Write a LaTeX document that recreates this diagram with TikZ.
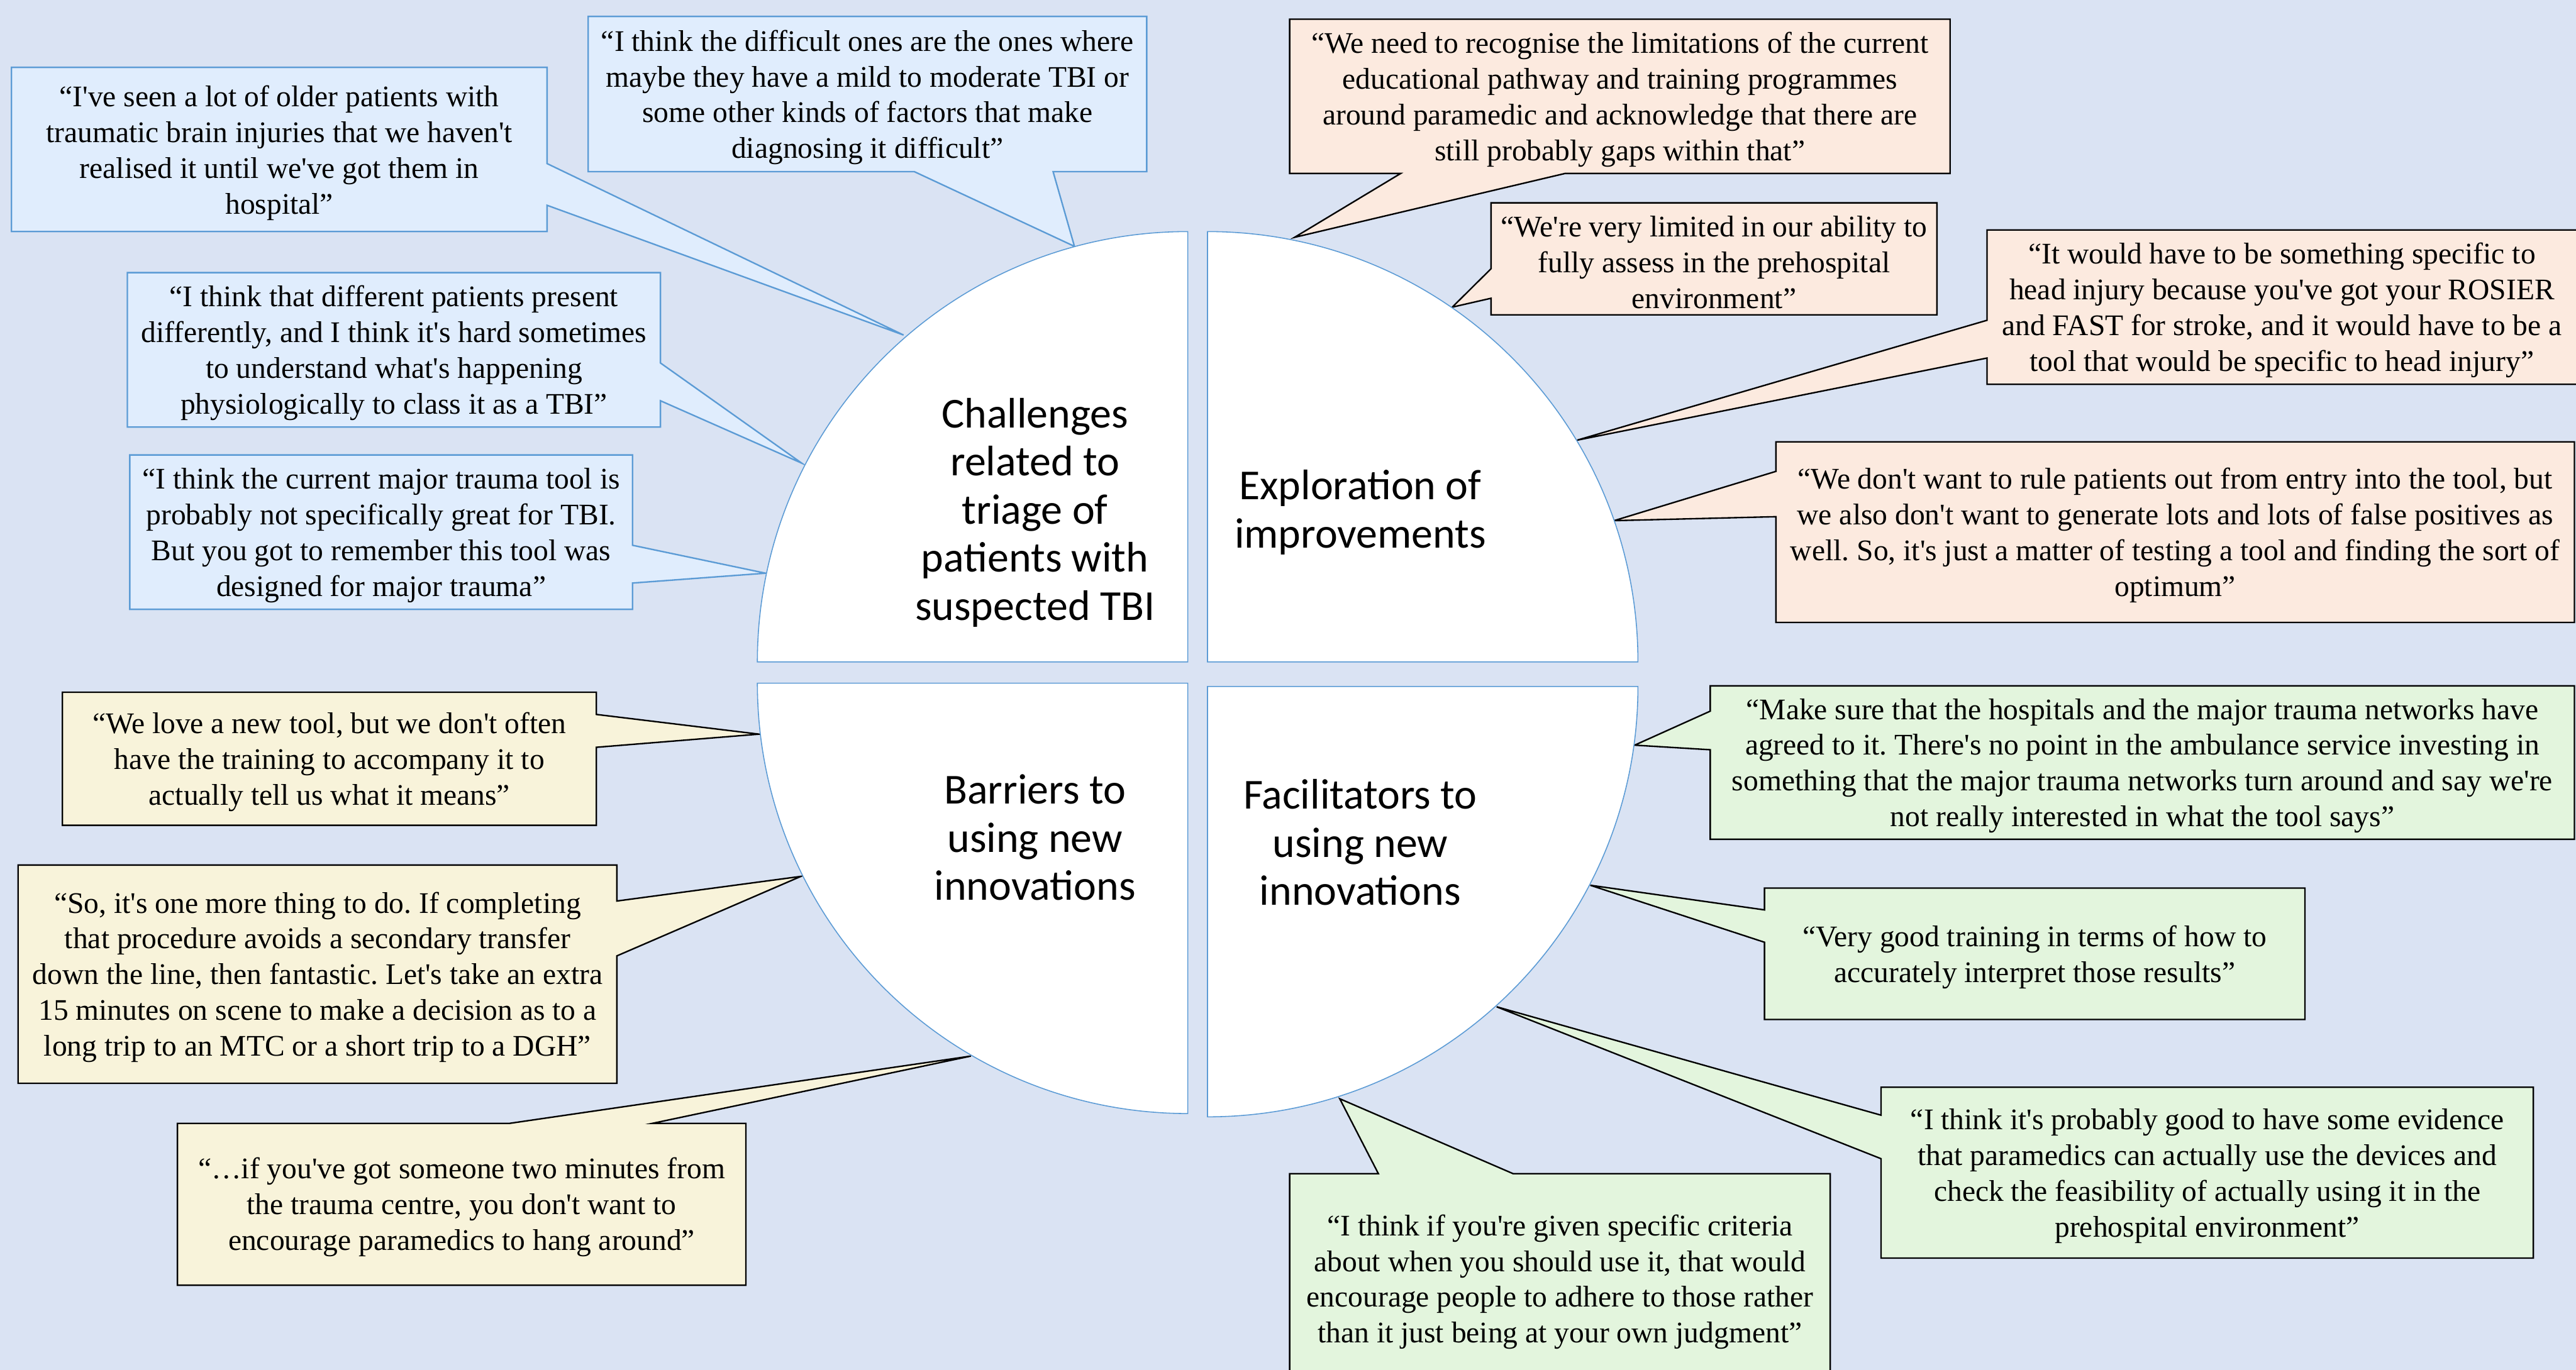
\documentclass[tikz,border=0pt]{standalone}
\usepackage{fontspec}
\setmainfont{Liberation Serif}[Ligatures=TeXOff]
\newfontfamily\themefont{Carlito}
\usepackage{xcolor}
\usetikzlibrary{positioning}
\definecolor{bgBlue}{HTML}{DAE3F3}
\definecolor{lineBlue}{HTML}{5B9BD5}
\definecolor{calBlue}{HTML}{E0EDFD}
\definecolor{calOrange}{HTML}{FCEADF}
\definecolor{calYellow}{HTML}{F8F3DA}
\definecolor{calGreen}{HTML}{E3F5DD}
\frenchspacing

\begin{document}
\begin{tikzpicture}[x=1pt, y=-1pt,
  quote/.style={font=\fontsize{18.2}{21.8}\selectfont, align=center, inner sep=0pt, yshift=-2pt},
  theme/.style={font=\themefont\fontsize{26}{29.3}\selectfont, align=center, inner sep=0pt, yshift=-2pt},
  quad/.style={draw=lineBlue, line width=0.6pt, fill=white},
  blu/.style={draw=lineBlue, line width=0.9pt, fill=calBlue},
  ora/.style={draw=black, line width=0.9pt, fill=calOrange},
  yel/.style={draw=black, line width=0.9pt, fill=calYellow},
  grn/.style={draw=black, line width=0.9pt, fill=calGreen}]
\useasboundingbox (0,0) rectangle (1568,834);
\clip (0,0) rectangle (1568,834);
\fill[bgBlue] (0,0) rectangle (1568,834);
% challenges
\draw[blu] (7,41) -| (333,99.6) -- (550,204) -- (333,125) |- (7,141) -- cycle;
\draw[blu] (358,10) -| (698,104.5) -- (641,104.5) -- (654,150) -- (556.5,104.5) -- (358,104.5) -- cycle;
\draw[blu] (77.5,166) -| (402,221) -- (488,282) -- (402,244) |- (77.5,260) -- cycle;
\draw[blu] (79,277) -| (385,332) -- (466,349) -- (385,355) |- (79,371) -- cycle;
\node[quote] (b1) at (170,91) {“I've seen a lot of older patients with\\traumatic brain injuries that we haven't\\realised it until we've got them in\\hospital”};
\node[quote] (b2) at (528,57.3) {“I think the difficult ones are the ones where\\maybe they have a mild to moderate TBI or\\some other kinds of factors that make\\diagnosing it difficult”};
\node[quote] (b3) at (239.8,213) {“I think that different patients present\\differently, and I think it's hard sometimes\\to understand what's happening\\physiologically to class it as a TBI”};
\node[quote] (b4) at (232,324) {“I think the current major trauma tool is\\probably not specifically great for TBI.\\But you got to remember this tool was\\designed for major trauma”};
% improvements
\draw[ora] (785,11.7) -| (1187,105.6) -- (952.7,105.6) -- (788,144.5) -- (852.6,105.6) -- (785,105.6) -- cycle;
\draw[ora] (907.6,123.5) -| (1179,191.7) -- (907.6,191.7) -- (907.6,181.6) -- (884,187) -- (907.6,163.6) -- cycle;
\draw[ora] (1209.5,140) -| (1572,234) -- (1209.5,234) -- (1209.5,218) -- (960,268) -- (1209.5,195) -- cycle;
\draw[ora] (1081,269) -| (1567,379) -- (1081,379) -- (1081,314.6) -- (982.5,317) -- (1081,287) -- cycle;
\node[quote] (o1) at (986,58.6) {“We need to recognise the limitations of the current\\educational pathway and training programmes\\around paramedic and acknowledge that there are\\still probably gaps within that”};
\node[quote] (o2) at (1043.3,157.6) {“We're very limited in our ability to\\fully assess in the prehospital\\environment”};
\node[quote] (o3) at (1389,187) {“It would have to be something specific to\\head injury because you've got your ROSIER\\and FAST for stroke, and it would have to be a\\tool that would be specific to head injury”};
\node[quote] (o4) at (1324,324) {“We don't want to rule patients out from entry into the tool, but\\we also don't want to generate lots and lots of false positives as\\well. So, it's just a matter of testing a tool and finding the sort of\\optimum”};
% barriers
\draw[yel] (38,421.5) -| (363,435) -- (462,447) -- (363,455) |- (38,502.5) -- cycle;
\draw[yel] (11,526.7) -| (375.5,548.6) -- (487.5,533.6) -- (375.5,582) |- (11,659.6) -- cycle;
\draw[yel] (108,684) -- (310,684) -- (591,643) -- (397,684) -- (454,684) |- (108,782.5) -- cycle;
\node[quote] (y1) at (200.5,462) {“We love a new tool, but we don't often\\have the training to accompany it to\\actually tell us what it means”};
\node[quote] (y2) at (193.3,593) {“So, it's one more thing to do. If completing\\that procedure avoids a secondary transfer\\down the line, then fantastic. Let's take an extra\\15 minutes on scene to make a decision as to a\\long trip to an MTC or a short trip to a DGH”};
\node[quote] (y3) at (281,733) {“…if you've got someone two minutes from\\the trauma centre, you don't want to\\encourage paramedics to hang around”};
% facilitators
\draw[grn] (1041,417.6) -| (1567,511) -- (1041,511) -- (1041,456.5) -- (995,453.7) -- (1041,433) -- cycle;
\draw[grn] (1074,540.7) -| (1403,620.7) -- (1074,620.7) -- (1074,573.7) -- (968,539) -- (1074,554) -- cycle;
\draw[grn] (1145,662) -| (1542,766) -- (1145,766) -- (1145,705.5) -- (911,613) -- (1145,679) -- cycle;
\draw[grn] (785,714.6) -- (839,714.6) -- (815.5,669) -- (921,714.6) -- (1114,714.6) |- (785,850) -- cycle;
\node[quote] (g1) at (1304,464.3) {“Make sure that the hospitals and the major trauma networks have\\agreed to it. There's no point in the ambulance service investing in\\something that the major trauma networks turn around and say we're\\not really interested in what the tool says”};
\node[quote] (g2) at (1238.5,580.7) {“Very good training in terms of how to\\accurately interpret those results”};
\node[quote] (g3) at (1343.5,714) {“I think it's probably good to have some evidence\\that paramedics can actually use the devices and\\check the feasibility of actually using it in the\\prehospital environment”};
\node[quote] (g4) at (949.5,778.5) {“I think if you're given specific criteria\\about when you should use it, that would\\encourage people to adhere to those rather\\than it just being at your own judgment”};
% the four quarters
\draw[quad] (723,403) -- (461,403) arc[start angle=180, end angle=90, radius=262pt] -- cycle;
\draw[quad] (735,403) -- (735,141) arc[start angle=90, end angle=0, radius=262pt] -- cycle;
\draw[quad] (723,416) -- (461,416) arc[start angle=180, end angle=270, radius=262pt] -- cycle;
\draw[quad] (735,418) -- (997,418) arc[start angle=0, end angle=-90, radius=262pt] -- cycle;
\node[theme] (chal) at (630,310) {Challenges\\related to\\triage of\\patients with\\suspected TBI};
\node[theme] (expl) at (828,310) {Exploration of\\improvements};
\node[theme] (barr) at (630,508) {Barriers to\\using new\\innovations};
\node[theme] (faci) at (828,511) {Facilitators to\\using new\\innovations};
\end{tikzpicture}
\end{document}
